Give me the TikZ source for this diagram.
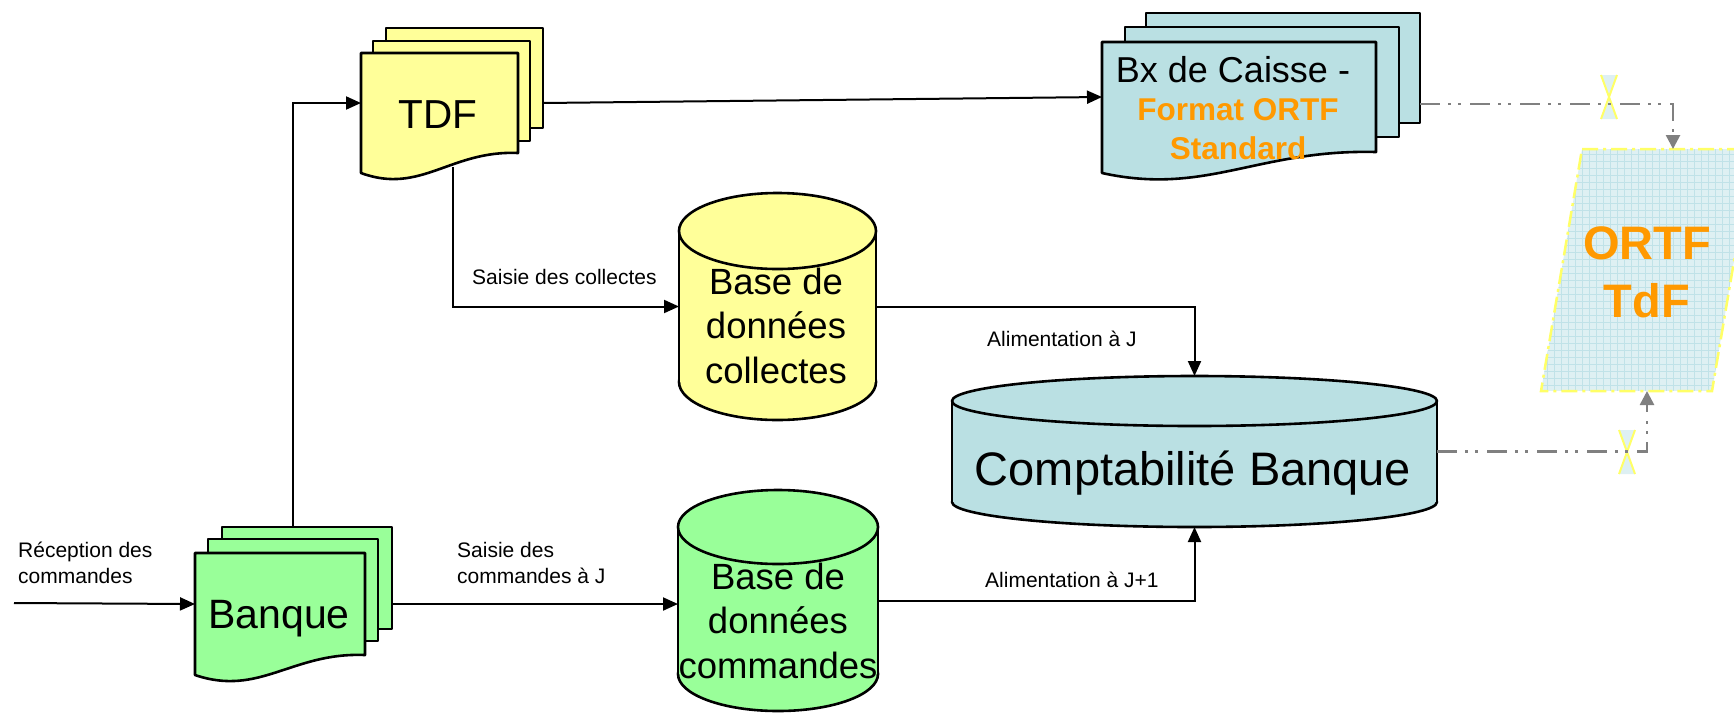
\documentclass[tikz,border=0pt]{standalone}
\usepackage{fontspec}
\setmainfont{Liberation Sans}
\usetikzlibrary{calc,arrows.meta,backgrounds}

\definecolor{docyellow}{RGB}{255,255,153}
\definecolor{docgreen}{RGB}{153,255,153}
\definecolor{docteal}{RGB}{186,224,227}
\definecolor{ortforange}{RGB}{255,153,0}
\definecolor{ortffill}{RGB}{222,240,243}
\definecolor{ortfgrid}{RGB}{192,226,232}
\definecolor{ortfedge}{RGB}{255,255,102}
\definecolor{jumpgray}{RGB}{128,128,128}

\begin{document}
\begin{tikzpicture}[x=1pt,y=1pt,yscale=-1,xscale=1,
  shapebox/.style={inner sep=0pt,outer sep=0pt},
  docline/.style={draw=black,line width=2.6pt,line join=round},
  doctext/.style={inner sep=0pt,anchor=base,align=center},
  note/.style={inner sep=0pt,anchor=base west,align=left,font=\fontsize{21}{26}\selectfont},
  conn/.style={line width=2pt,-{Triangle[length=15pt,width=13pt]}},
  jump/.style={draw=jumpgray,line width=2.6pt,dash pattern=on 20pt off 8pt on 3pt off 7pt on 3pt off 9pt,-{Triangle[length=14pt,width=14pt]}}]
\useasboundingbox (0,0) rectangle (1734,713);
\clip (0,0) rectangle (1734,713);

% Shape frames
\node[shapebox,minimum width=157,minimum height=100,anchor=north west] (tdf) at (361,53) {};
\node[shapebox,minimum width=274,minimum height=110,anchor=north west] (bx) at (1102,42) {};
\node[shapebox,minimum width=170,minimum height=102,anchor=north west] (banque) at (195,553) {};
\node[shapebox,minimum width=197,minimum height=151,anchor=north west] (coll) at (679,231) {};
\node[shapebox,minimum width=200,minimum height=147,anchor=north west] (cmd) at (678,527) {};
\node[shapebox,minimum width=485,minimum height=101,anchor=north west] (compta) at (952,401) {};
\node[shapebox,minimum width=212,minimum height=242,anchor=north west] (ortf) at (1541,149) {};

% Text Node (base = baseline of the last line)
\node[doctext,font=\fontsize{40.5}{48}\selectfont] (tdf-txt) at (438,128) {TDF};
\node[doctext,font=\fontsize{41}{49}\selectfont] (banque-txt) at (279,628) {Banque};
\node[doctext,font=\fontsize{36}{40}\selectfont] (bx-txt) at (1233,82) {Bx de Caisse -};
\node[doctext,font=\fontsize{31.5}{38.5}\selectfont\bfseries,text=ortforange] (bx-fmt) at (1238,159) {Format ORTF\\Standard};
\node[doctext,font=\fontsize{36.5}{44.5}\selectfont] (coll-txt) at (776,383) {Base de\\données\\collectes};
\node[doctext,font=\fontsize{36.5}{44.5}\selectfont] (cmd-txt) at (778,678) {Base de\\données\\commandes};
\node[doctext,font=\fontsize{47}{56}\selectfont] (compta-txt) at (1193,485) {Comptabilité Banque};
\node[doctext,font=\fontsize{47}{58}\selectfont\bfseries,text=ortforange] (ortf-txt) at (1647,317) {ORTF\\TdF};
\node[note] (recv-lbl) at (18,583) {Réception des\\commandes};
\node[note] (saisie-cmd-lbl) at (457,583) {Saisie des\\commandes à J};
\node[note] (saisie-coll-lbl) at (472,284) {Saisie des collectes};
\node[note] (alim-j-lbl) at (987,346) {Alimentation à J};
\node[note] (alim-j1-lbl) at (985,587) {Alimentation à J+1};

\begin{scope}[on background layer]
%Shape: Multidocument TDF
\draw[docline,fill=docyellow] ($(tdf.north west)+(25,-25)$) rectangle ($(tdf.south east)+(25,-25)$);
\draw[docline,fill=docyellow] ($(tdf.north west)+(12,-12)$) rectangle ($(tdf.south east)+(12,-12)$);
\draw[docline,fill=docyellow] (tdf.north west) -- (tdf.north east) -- (tdf.south east) .. controls ($(tdf.south west)!0.57!(tdf.south east)+(0,-3)$) and ($(tdf.south west)!0.38!(tdf.south east)+(0,42)$) .. ($(tdf.south west)+(0,20)$) -- cycle;
%Shape: Multidocument Bx de Caisse
\draw[docline,fill=docteal] ($(bx.north west)+(44,-29)$) rectangle ($(bx.south east)+(44,-29)$);
\draw[docline,fill=docteal] ($(bx.north west)+(23,-15)$) rectangle ($(bx.south east)+(23,-15)$);
\draw[docline,fill=docteal] (bx.north west) -- (bx.north east) -- (bx.south east) .. controls ($(bx.south west)!0.57!(bx.south east)+(0,-3)$) and ($(bx.south west)!0.38!(bx.south east)+(0,44)$) .. ($(bx.south west)+(0,21)$) -- cycle;
%Shape: Multidocument Banque
\draw[docline,fill=docgreen] ($(banque.north west)+(27,-26)$) rectangle ($(banque.south east)+(27,-26)$);
\draw[docline,fill=docgreen] ($(banque.north west)+(13,-14)$) rectangle ($(banque.south east)+(13,-14)$);
\draw[docline,fill=docgreen] (banque.north west) -- (banque.north east) -- (banque.south east) .. controls ($(banque.south west)!0.57!(banque.south east)+(0,-3)$) and ($(banque.south west)!0.38!(banque.south east)+(0,42)$) .. ($(banque.south west)+(0,20)$) -- cycle;
%Shape: Can collectes
\filldraw[docline,fill=docyellow] (coll.south) ellipse [x radius=98.5,y radius=38];
\fill[docyellow] (coll.north west) rectangle (coll.south east);
\draw[docline] (coll.north west) -- (coll.south west) (coll.north east) -- (coll.south east);
\filldraw[docline,fill=docyellow] (coll.north) ellipse [x radius=98.5,y radius=38];
%Shape: Can commandes
\filldraw[docline,fill=docgreen] (cmd.south) ellipse [x radius=100,y radius=37];
\fill[docgreen] (cmd.north west) rectangle (cmd.south east);
\draw[docline] (cmd.north west) -- (cmd.south west) (cmd.north east) -- (cmd.south east);
\filldraw[docline,fill=docgreen] (cmd.north) ellipse [x radius=100,y radius=37];
%Shape: Can Comptabilite
\filldraw[docline,fill=docteal] (compta.south) ellipse [x radius=242.5,y radius=25];
\fill[docteal] (compta.north west) rectangle (compta.south east);
\draw[docline] (compta.north west) -- (compta.south west) (compta.north east) -- (compta.south east);
\filldraw[docline,fill=docteal] (compta.north) ellipse [x radius=242.5,y radius=25];
%Shape: Parallelogram ORTF
\begin{scope}
\clip ($(ortf.north west)+(41,0)$) -- (ortf.north east) -- ($(ortf.south east)+(-41,0)$) -- (ortf.south west) -- cycle;
\fill[ortffill] (ortf.north west) rectangle (ortf.south east);
\draw[ortfgrid,line width=0.7pt,step=7] (ortf.north west) grid (ortf.south east);
\end{scope}
\draw[ortfedge,line width=2.5pt,dash pattern=on 16pt off 5pt on 3pt off 5pt] ($(ortf.north west)+(41,0)$) -- (ortf.north east) -- ($(ortf.south east)+(-41,0)$) -- (ortf.south west) -- cycle;
%Shape: line jumps
\foreach \hx/\hy in {1609/97,1627/452} {
  \fill[ortffill] (\hx-8,\hy-22) -- (\hx+8,\hy-22) -- (\hx-8,\hy+22) -- (\hx+8,\hy+22) -- cycle;
  \draw[ortfedge,line width=2pt] (\hx-8,\hy-22) -- (\hx+8,\hy+22) (\hx+8,\hy-22) -- (\hx-8,\hy+22);
}
\end{scope}

% Connectors
\coordinate (recv-in) at (14,603);
\draw[conn] (recv-in) -- (banque.west);
\draw[conn] ($(banque.north)+(13,-26)$) |- (tdf.west);
\coordinate (bq-out) at ($(banque.east)+(27,0)$);
\draw[conn] (bq-out) -- (bq-out -| cmd.west);
\draw[conn] ($(tdf.east)+(25,0)$) -- (bx.west);
\draw[conn] ($(tdf.south)+(13.5,14)$) |- (coll.west);
\draw[conn] (coll.east) -| ($(compta.north)+(0,-25)$);
\draw[conn] (cmd.east) -| ($(compta.south)+(0,25)$);
\draw[jump] ($(bx.east)+(44,7)$) -| ($(ortf.north)+(26,0)$);
\draw[jump] (compta.east) -| (ortf.south);

\end{tikzpicture}
\end{document}
